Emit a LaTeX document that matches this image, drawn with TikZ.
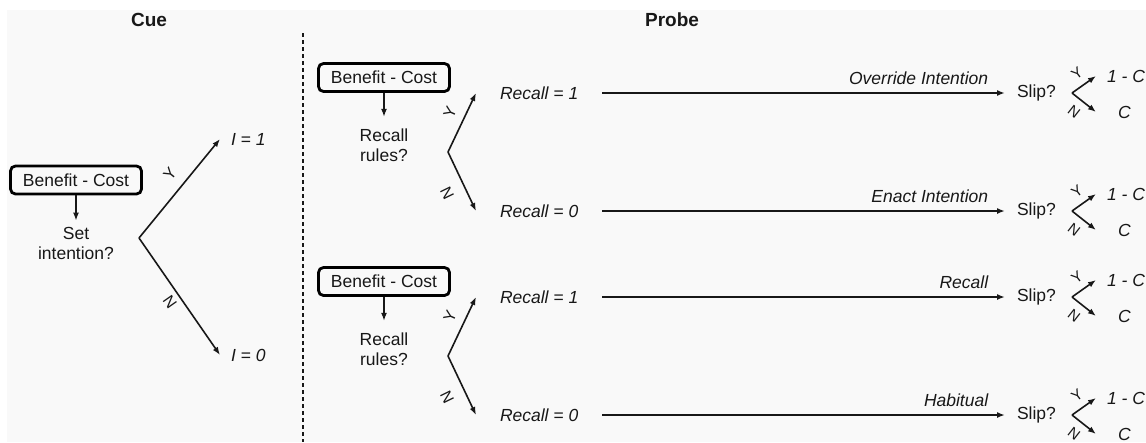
\documentclass[tikz,border=0pt]{standalone}
\usepackage{fontspec}
\setmainfont{Liberation Sans}
\usetikzlibrary{arrows.meta}
\definecolor{ink}{RGB}{24,24,24}
\definecolor{bg}{RGB}{249,249,249}
\begin{document}
\begin{tikzpicture}[x=1pt,y=-1pt,
  txt/.style={text=ink,font=\fontsize{17.5}{20}\selectfont,inner sep=0pt},
  itx/.style={txt,font=\fontsize{17.5}{20}\selectfont\itshape},
  ttl/.style={txt,font=\fontsize{19}{22}\selectfont\bfseries},
  yn/.style={txt,font=\fontsize{16}{18}\selectfont},
  ynsmall/.style={txt,font=\fontsize{15}{16}\selectfont},
  bcbox/.style={draw=black,line width=2.8pt,rounded corners=5pt,minimum width=131pt,minimum height=28pt,inner sep=0pt,text=ink,font=\fontsize{17.5}{20}\selectfont},
  q/.style={txt,align=center},
  arr/.style={draw=ink,line width=1.6pt,-{Latex[length=8pt,width=6pt]}},
]
\useasboundingbox (0,0) rectangle (1146,442);
\fill[white] (0,0) rectangle (1146,442);
\fill[bg] (7,10) rectangle (1146,442);

\node[ttl] (cue) at (149,20) {Cue};
\node[ttl] (probe) at (672,20) {Probe};
\coordinate (dtop) at (303,33);
\coordinate (dbot) at (303,442);
\draw[ink, line width=1.6pt, dash pattern=on 4pt off 3pt] (dtop) -- (dbot);

% cue
\node[bcbox] (bc0) at (76,180) {Benefit - Cost};
\node[q] (si) at (76,243) {Set\\intention?};
\draw[arr,shorten >=6pt] (bc0.south) -- (si.north);
\coordinate (v0) at (139,238);
\node[itx,anchor=west,outer xsep=11pt] (i1) at (220,139) {I = 1};
\node[itx,anchor=west,outer xsep=11pt] (i0) at (220,355) {I = 0};
\draw[arr] (v0) -- (i1.west);
\draw[arr] (v0) -- (i0.west);
\node[yn,rotate=51] (y0) at (170,174) {Y};
\node[yn,rotate=-55] (n0) at (170,302) {N};

% probe groups
\foreach \g/\dy in {a/0,b/204}{
  \node[bcbox] (bc\g) at (384,77.5+\dy) {Benefit - Cost};
  \node[q] (rr\g) at (384,145.5+\dy) {Recall\\rules?};
  \draw[arr,shorten >=12pt] (bc\g.south) -- (rr\g.north);
  \coordinate (v\g) at (448,152+\dy);
  \node[yn,rotate=66] (y\g) at (450,112+\dy) {Y};
  \node[yn,rotate=-64] (n\g) at (447,193+\dy) {N};
}

% rows
\foreach \n/\g/\y/\val/\lab in {1/a/93/1/Override Intention,2/a/211/0/Enact Intention,3/b/297/1/Recall,4/b/415/0/Habitual}{
  \node[itx,anchor=west,outer xsep=24pt] (r\n) at (476,\y) {Recall = \val};
  \draw[arr] (v\g) -- (r\n.west);
  \node[txt,anchor=west,outer xsep=12pt] (s\n) at (1005,\y) {Slip?};
  \draw[arr] (r\n.east) -- (s\n.west)
    node[itx,pos=1,anchor=base east,xshift=-16pt,yshift=9pt] (l\n) {\lab};
  \coordinate (w\n) at (1072,\y);
  \node[itx,anchor=west,outer xsep=11pt] (p\n) at (1096,\y-17) {1 - C};
  \node[itx,anchor=west,outer xsep=22pt] (c\n) at (1096,\y+19) {C};
  \draw[arr] (w\n) -- (p\n.west);
  \draw[arr] (w\n) -- (c\n.west);
  \node[ynsmall,rotate=37] (yy\n) at (1077,\y-20) {Y};
  \node[ynsmall,rotate=-38] (nn\n) at (1074,\y+19) {N};
}
\end{tikzpicture}
\end{document}
